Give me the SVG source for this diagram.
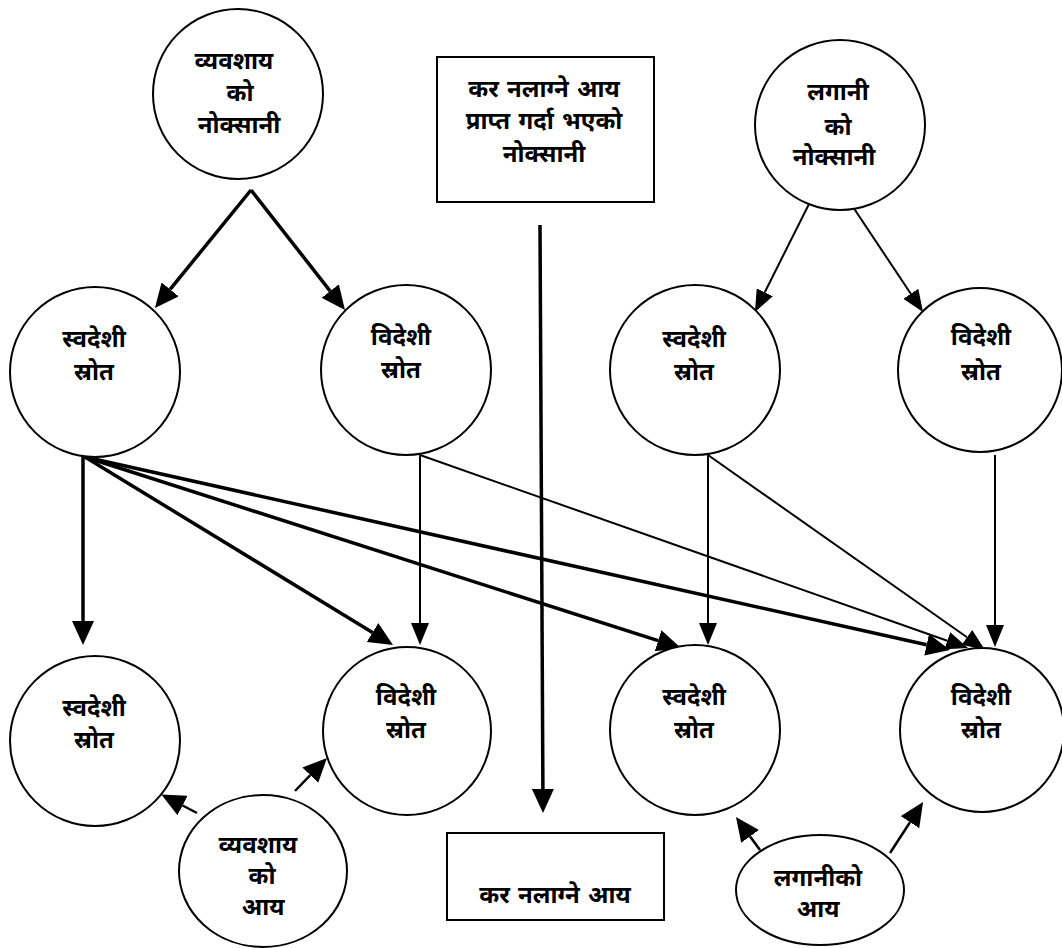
<svg xmlns="http://www.w3.org/2000/svg" width="1062" height="948" viewBox="0 0 1062 948">
<style>
.n{fill:#fff;stroke:#000;stroke-width:2}
.t{font-family:"Noto Sans Devanagari","Noto Sans","Lohit Devanagari","FreeSans",sans-serif;font-size:24px;font-weight:bold;fill:#000;text-anchor:middle;word-spacing:2px}
.k{stroke:#000;stroke-width:3.5;fill:none}
.s{stroke:#000;stroke-width:2;fill:none}
.m{stroke:#000;stroke-width:2.5;fill:none}
</style>
<defs>
<marker id="hb" viewBox="0 0 24 22" refX="0" refY="11" markerWidth="24" markerHeight="22" markerUnits="userSpaceOnUse" orient="auto"><path d="M0,0 L24,11 L0,22 z" fill="#000"/></marker>
<marker id="hs" viewBox="0 0 22 18" refX="0" refY="9" markerWidth="22" markerHeight="18" markerUnits="userSpaceOnUse" orient="auto"><path d="M0,0 L22,9 L0,18 z" fill="#000"/></marker>
</defs>
<rect width="1062" height="948" fill="#fff"/>
<g id="connectors">
<line class="k" x1="251" y1="190" x2="170.1" y2="289.4" marker-end="url(#hb)"/>
<line class="k" x1="251" y1="190" x2="330.2" y2="291.1" marker-end="url(#hb)"/>
<line class="s" x1="827" y1="168" x2="764.8" y2="292.3" marker-end="url(#hs)"/>
<line class="s" x1="827" y1="168" x2="910.8" y2="293.7" marker-end="url(#hs)"/>
<line class="k" x1="83" y1="457" x2="83" y2="621" marker-end="url(#hb)"/>
<line class="k" x1="85" y1="457" x2="372.5" y2="632.5" marker-end="url(#hb)"/>
<line class="k" x1="85" y1="457" x2="658.1" y2="640.7" marker-end="url(#hb)"/>
<line class="k" x1="85" y1="457" x2="926.6" y2="644.8" marker-end="url(#hb)"/>
<line class="s" x1="420" y1="455" x2="420" y2="623" marker-end="url(#hs)"/>
<line class="s" x1="420" y1="455" x2="947.3" y2="640.7" marker-end="url(#hs)"/>
<line class="s" x1="708" y1="455" x2="708" y2="623" marker-end="url(#hs)"/>
<line class="s" x1="708" y1="455" x2="967" y2="637.3" marker-end="url(#hs)"/>
<line class="s" x1="995" y1="455" x2="995" y2="625" marker-end="url(#hs)"/>
<line class="k" x1="540" y1="225" x2="542.9" y2="789" marker-end="url(#hb)"/>
<line class="m" x1="197" y1="813" x2="182.6" y2="805.5" marker-end="url(#hb)"/>
<line class="m" x1="295" y1="791" x2="310.3" y2="775.2" marker-end="url(#hb)"/>
<line class="m" x1="760" y1="850" x2="750.1" y2="836.4" marker-end="url(#hb)"/>
<line class="m" x1="890" y1="853" x2="910" y2="822.2" marker-end="url(#hb)"/>
</g>
<g id="biz-loss"><circle class="n" cx="238" cy="94" r="85"/>
<text class="t" x="234" y="69">व्यवशाय</text><text class="t" x="240" y="101">को</text><text class="t" x="239" y="133">नोक्सानी</text></g>
<g id="exempt-loss"><rect class="n" x="437" y="57" width="217" height="145"/>
<text class="t" x="544" y="97">कर नलाग्ने आय</text><text class="t" x="544" y="129">प्राप्त गर्दा भएको</text><text class="t" x="544" y="162">नोक्सानी</text></g>
<g id="inv-loss"><circle class="n" cx="840" cy="125" r="85"/>
<text class="t" x="838" y="100">लगानी</text><text class="t" x="838" y="135">को</text><text class="t" x="834" y="165">नोक्सानी</text></g>
<g id="m1"><circle class="n" cx="95" cy="372" r="85"/><text class="t" x="94" y="347">स्वदेशी</text><text class="t" x="94" y="380">स्रोत</text></g>
<g id="m2"><circle class="n" cx="406" cy="370" r="85"/><text class="t" x="401" y="345">विदेशी</text><text class="t" x="401" y="378">स्रोत</text></g>
<g id="m3"><circle class="n" cx="695" cy="370" r="85"/><text class="t" x="694" y="347">स्वदेशी</text><text class="t" x="694" y="380">स्रोत</text></g>
<g id="m4"><circle class="n" cx="980" cy="370" r="82"/><text class="t" x="981" y="345">विदेशी</text><text class="t" x="981" y="380">स्रोत</text></g>
<g id="b1"><circle class="n" cx="95" cy="741" r="85"/><text class="t" x="94" y="716">स्वदेशी</text><text class="t" x="94" y="748">स्रोत</text></g>
<g id="b2"><circle class="n" cx="407" cy="731" r="84"/><text class="t" x="406" y="705">विदेशी</text><text class="t" x="406" y="738">स्रोत</text></g>
<g id="b3"><circle class="n" cx="695" cy="730" r="85"/><text class="t" x="694" y="705">स्वदेशी</text><text class="t" x="694" y="738">स्रोत</text></g>
<g id="b4"><circle class="n" cx="982" cy="730" r="82"/><text class="t" x="981" y="705">विदेशी</text><text class="t" x="981" y="738">स्रोत</text></g>
<g id="biz-income"><ellipse class="n" cx="263" cy="871" rx="84" ry="76"/>
<text class="t" x="258" y="853">व्यवशाय</text><text class="t" x="262" y="884">को</text><text class="t" x="263" y="915">आय</text></g>
<g id="exempt-income"><rect class="n" x="447" y="833" width="217" height="87"/><text class="t" x="555" y="903">कर नलाग्ने आय</text></g>
<g id="inv-income"><ellipse class="n" cx="820" cy="890" rx="84" ry="55"/>
<text class="t" x="818" y="886">लगानीको</text><text class="t" x="818" y="917">आय</text></g>
</svg>
